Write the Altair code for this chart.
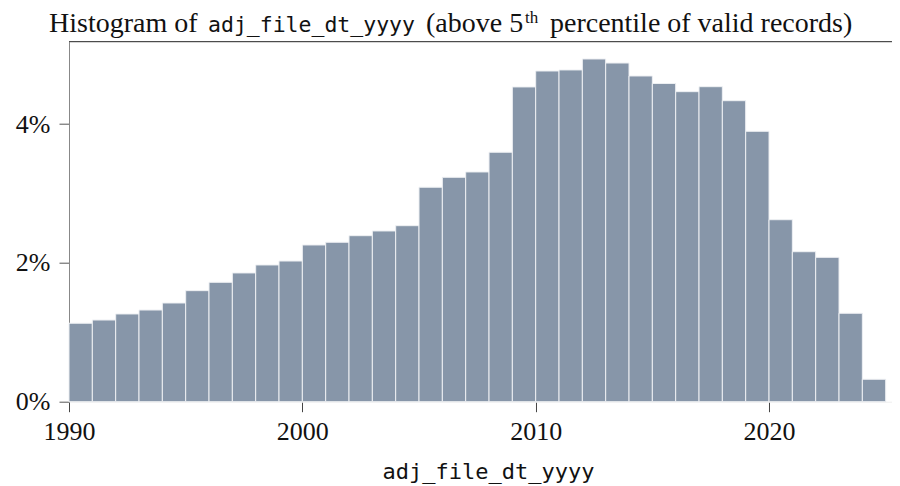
import altair as alt
import pandas as pd

# Histogram data: one bin per year, share of records in percent
years = list(range(1990, 2025))
shares = [1.13, 1.177, 1.264, 1.321, 1.422, 1.60, 1.72, 1.855, 1.97, 2.027,
          2.258, 2.297, 2.392, 2.46, 2.536, 3.09, 3.233, 3.31, 3.594, 4.535,
          4.765, 4.78, 4.938, 4.88, 4.693, 4.585, 4.467, 4.539, 4.337, 3.896,
          2.622, 2.161, 2.08, 1.274, 0.323]
x_ticks = [1990, 2000, 2010, 2020]
y_ticks = [0, 2, 4]

df = pd.DataFrame({"start": years, "end": [y + 1 for y in years], "pct": shares})

W, H = 823, 360
SERIF = "Liberation Serif"
MONO = "DejaVu Sans Mono"

bars = alt.Chart(df).mark_bar(
    color="#8796a9", stroke="#eef0f3", strokeWidth=1
).encode(
    x=alt.X("start:Q",
            scale=alt.Scale(domain=[1990, 2025.27], nice=False, zero=False),
            axis=alt.Axis(values=x_ticks, format="d", grid=False,
                          title="adj_file_dt_yyyy", titleFont=MONO,
                          titleFontSize=22, titleFontWeight="normal",
                          titleColor="#111", titleX=419, titleY=77,
                          titleAlign="center", titleBaseline="alphabetic",
                          labelFont=SERIF, labelFontSize=26, labelColor="#111",
                          labelPadding=7, tickSize=10, tickColor="#444",
                          domainColor="#eeeeee", labelFlush=False)),
    x2="end:Q",
    y=alt.Y("pct:Q",
            scale=alt.Scale(domain=[0, 5.187], nice=False),
            axis=alt.Axis(values=y_ticks, labelExpr="datum.value + '%'",
                          grid=False, title=None, labelFont=SERIF,
                          labelFontSize=26, labelColor="#111", labelPadding=9,
                          tickSize=10, tickColor="#555", domainColor="#888",
                          labelBaseline="middle")),
    y2=alt.Y2(datum=0),
)

top_rule = alt.Chart(pd.DataFrame({"a": [0]})).mark_rule(
    color="#222", strokeWidth=1
).encode(x=alt.value(0), x2=alt.value(W), y=alt.value(0))


def piece(text, x, y, font, size):
    return alt.Chart(pd.DataFrame({"t": [text]})).mark_text(
        align="left", baseline="alphabetic", font=font, fontSize=size,
        color="#111"
    ).encode(text="t:N", x=alt.value(x), y=alt.value(y))


title = alt.layer(
    piece("Histogram of", -20, -9.7, SERIF, 28),
    piece("adj_file_dt_yyyy", 139, -9.7, MONO, 21.5),
    piece("(above 5", 357, -9.7, SERIF, 28),
    piece("th", 456, -19, SERIF, 17),
    piece("percentile of valid records)", 481, -9.7, SERIF, 28),
)

chart = alt.layer(bars, top_rule, title).properties(
    width=W, height=H,
    autosize=alt.AutoSizeParams(type="none"),
    padding={"left": 61, "top": 33.7, "right": 0, "bottom": 86},
).configure_view(strokeWidth=0)

chart.save("out.html", embed_options={"renderer": "svg", "actions": False})
